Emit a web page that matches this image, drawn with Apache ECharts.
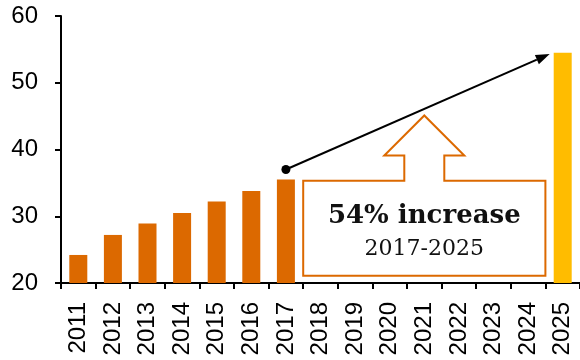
<!DOCTYPE html>
<html>
<head>
<meta charset="utf-8">
<script src="https://cdn.jsdelivr.net/npm/echarts@6/dist/echarts.min.js"></script>
<style>
  html, body { margin: 0; padding: 0; background: #fff; }
  #chart { width: 580px; height: 360px; }
</style>
</head>
<body>
<div id="chart"></div>
<script>
const years = ['2011', '2012', '2013', '2014', '2015', '2016', '2017', '2018',
  '2019', '2020', '2021', '2022', '2023', '2024', '2025'];
// null = no bar for that year
const values = [24.2, 27.2, 28.9, 30.5, 32.2, 33.8, 35.5, null,
  null, null, null, null, null, null, 54.5];
const yTicks = [20, 30, 40, 50, 60];
const calloutTitle = '54% increase';
const calloutSub = '2017-2025';

const ORANGE = '#DC6900';
const YELLOW = '#FFBC00';

const chart = echarts.init(document.getElementById('chart'));

let option = {
  animation: false,
  grid: { left: 61, right: -1, top: 16, bottom: 77, containLabel: false },
  xAxis: {
    type: 'category',
    data: years,
    axisLine: { lineStyle: { color: '#000', width: 2 } },
    axisTick: { show: true, length: 6, lineStyle: { color: '#000', width: 2 } },
    axisLabel: {
      rotate: 90,
      margin: 19,
      color: '#000',
      fontSize: 24,
      fontFamily: 'Liberation Sans, Arial, sans-serif'
    }
  },
  yAxis: {
    type: 'value',
    min: yTicks[0],
    max: yTicks[yTicks.length - 1],
    interval: 10,
    splitLine: { show: false },
    axisLine: { show: true, lineStyle: { color: '#000', width: 2 } },
    axisTick: { show: true, length: 6, lineStyle: { color: '#000', width: 2 } },
    axisLabel: {
      margin: 23,
      color: '#000',
      fontSize: 24,
      fontFamily: 'Liberation Sans, Arial, sans-serif'
    }
  },
  series: [
    {
      type: 'bar',
      barWidth: 18,
      data: values.map((v, i) => ({
        value: v,
        itemStyle: { color: i === values.length - 1 ? YELLOW : ORANGE }
      }))
    }
  ]
};

chart.setOption(option);

// annotations, placed through the axes
function px(x, y) {
  return chart.convertToPixel({ seriesIndex: 0 }, [x, y]);
}
const step = px('2012', 20)[0] - px('2011', 20)[0];
const start = px('2017', 37);
const endRef = px('2025', 54.3);
const end = [endRef[0] - 13, endRef[1]];

const boxL = px('2017', 20)[0] + step / 2;
const boxR = px('2024', 20)[0] + step / 2;
const boxT = px('2017', 35.3)[1];
const boxB = px('2017', 21.1)[1];
const tipX = px('2021', 20)[0];
const tipY = px('2021', 45.1)[1];
const headY = px('2021', 39.1)[1];

const calloutPts = [
  [boxL, boxT], [tipX - 20, boxT], [tipX - 20, headY], [tipX - 40, headY],
  [tipX, tipY], [tipX + 40, headY], [tipX + 20, headY], [tipX + 20, boxT],
  [boxR, boxT], [boxR, boxB], [boxL, boxB]
];

const ang = Math.atan2(end[1] - start[1], end[0] - start[0]);
const hl = 14, hw = 5;
const headBase = [end[0] - hl * Math.cos(ang), end[1] - hl * Math.sin(ang)];
const headPts = [
  end,
  [headBase[0] + hw * Math.sin(ang), headBase[1] - hw * Math.cos(ang)],
  [headBase[0] - hw * Math.sin(ang), headBase[1] + hw * Math.cos(ang)]
];

chart.setOption({
  graphic: [
    {
      type: 'polygon',
      shape: { points: calloutPts },
      style: { fill: '#fff', stroke: ORANGE, lineWidth: 2 },
      z: 10
    },
    {
      type: 'text',
      x: (boxL + boxR) / 2,
      y: 216,
      style: {
        text: calloutTitle,
        fill: '#111',
        font: 'bold 26px "DejaVu Serif", "Liberation Serif", serif',
        align: 'center',
        verticalAlign: 'middle'
      },
      z: 11
    },
    {
      type: 'text',
      x: (boxL + boxR) / 2,
      y: 249,
      style: {
        text: calloutSub,
        fill: '#111',
        font: '22px "DejaVu Serif", "Liberation Serif", serif',
        align: 'center',
        verticalAlign: 'middle'
      },
      z: 11
    },
    {
      type: 'line',
      shape: { x1: start[0], y1: start[1], x2: headBase[0], y2: headBase[1] },
      style: { stroke: '#000', lineWidth: 2 },
      z: 12
    },
    {
      type: 'polygon',
      shape: { points: headPts },
      style: { fill: '#000' },
      z: 12
    },
    {
      type: 'circle',
      shape: { cx: start[0], cy: start[1], r: 4.5 },
      style: { fill: '#000' },
      z: 12
    }
  ]
});
</script>
</body>
</html>
